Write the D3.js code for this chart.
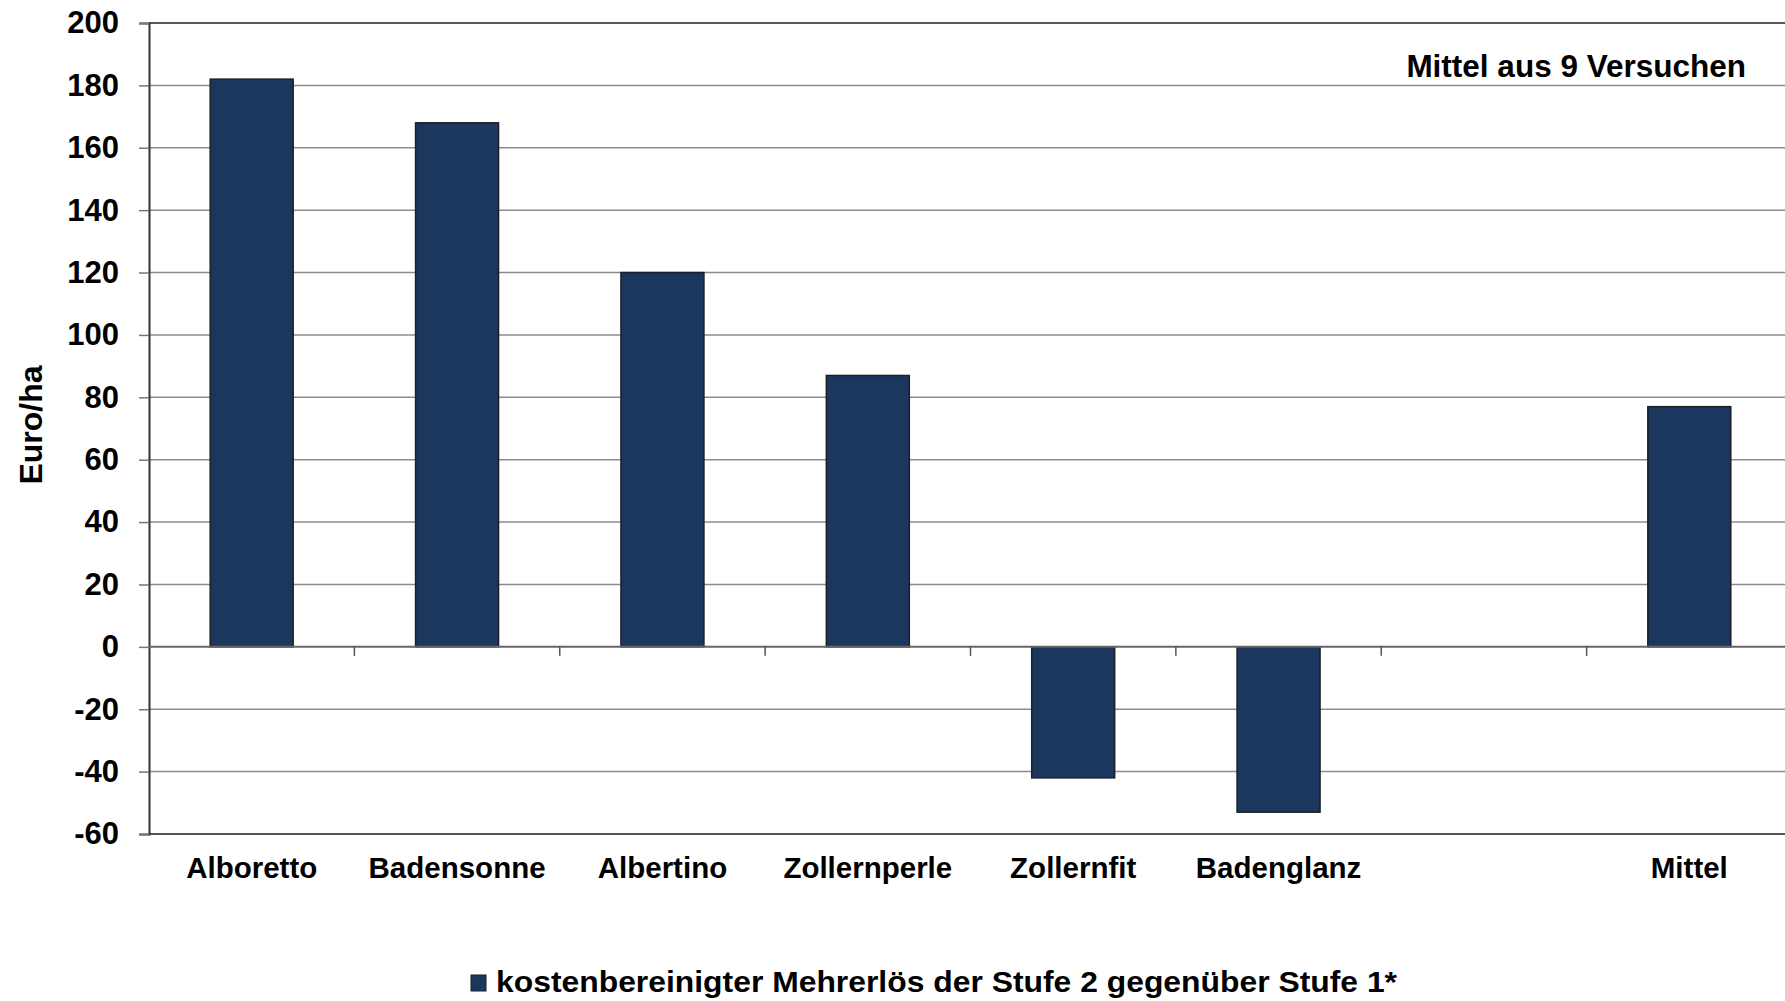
<!DOCTYPE html>
<html>
<head>
<meta charset="utf-8">
<script src="https://cdn.jsdelivr.net/npm/d3@7"></script>
<style>
  body { margin: 0; background: #fff; }
  svg text { font-family: "Liberation Sans", Arial, sans-serif; font-weight: bold; fill: #000; }
</style>
</head>
<body>
<div id="chart"></div>
<script>
'use strict';

// categories (the empty slot before "Mittel" is a gap in the original)
var categories = ['Alboretto', 'Badensonne', 'Albertino', 'Zollernperle', 'Zollernfit', 'Badenglanz', '', 'Mittel'];
var values = [182, 168, 120, 87, -42, -53, null, 77];
var yTicks = [-60, -40, -20, 0, 20, 40, 60, 80, 100, 120, 140, 160, 180, 200];
var seriesName = 'kostenbereinigter Mehrerlös der Stufe 2 gegenüber Stufe 1*';
var note = 'Mittel aus 9 Versuchen';
var yTitle = 'Euro/ha';

var drawChart = function () {
  var width = 1785, height = 1001;
  var left = 149, top = 23, plotW = 1643, plotH = 811;
  var barColor = '#1b375e';

  var svg = d3.select('#chart')
    .append('svg')
    .attr('width', width)
    .attr('height', height);

  var x = d3.scaleBand()
    .domain(d3.range(categories.length))
    .range([left, left + plotW])
    .paddingInner(0.596)
    .paddingOuter(0.298);

  var step = x.step();

  var y = d3.scaleLinear()
    .domain([-60, 200])
    .range([top + plotH, top]);

  // gridlines
  svg.append('g')
    .selectAll('line')
    .data(yTicks.filter(function (t) { return t !== 0 && t !== -60 && t !== 200; }))
    .enter().append('line')
    .attr('x1', left).attr('x2', left + plotW)
    .attr('y1', function (d) { return y(d); })
    .attr('y2', function (d) { return y(d); })
    .style('stroke', '#8c8c8c')
    .style('stroke-width', '1.5px');

  // top and bottom border
  svg.append('line')
    .attr('x1', left).attr('x2', left + plotW)
    .attr('y1', y(200)).attr('y2', y(200))
    .style('stroke', '#222').style('stroke-width', '1.5px');
  svg.append('line')
    .attr('x1', left).attr('x2', left + plotW)
    .attr('y1', y(-60)).attr('y2', y(-60))
    .style('stroke', '#555').style('stroke-width', '2px');

  // y axis (plain hyphen for negatives, like the original)
  var yAxis = d3.axisLeft(y)
    .tickValues(yTicks)
    .tickSize(10)
    .tickPadding(20)
    .tickFormat(function (d) { return String(d); });

  var gy = svg.append('g')
    .attr('transform', 'translate(' + left + ',0)')
    .call(yAxis);
  gy.select('.domain').style('stroke', '#333').style('stroke-width', '2px');
  gy.selectAll('.tick line').style('stroke', '#777').style('stroke-width', '1.5px');
  gy.selectAll('.tick text')
    .style('font-size', '31px')
    .style('font-family', '"Liberation Sans", Arial, sans-serif')
    .style('font-weight', 'bold')
    .attr('fill', '#000');

  // bars
  svg.append('g')
    .selectAll('rect')
    .data(values.map(function (v, i) { return { i: i, v: v }; }).filter(function (d) { return d.v !== null; }))
    .enter().append('rect')
    .attr('x', function (d) { return x(d.i); })
    .attr('width', x.bandwidth())
    .attr('y', function (d) { return y(Math.max(0, d.v)); })
    .attr('height', function (d) { return Math.abs(y(d.v) - y(0)); })
    .style('fill', barColor)
    .style('stroke', '#1a1f28')
    .style('stroke-width', '1.5px');

  // zero line with category separators
  svg.append('line')
    .attr('x1', left).attr('x2', left + plotW)
    .attr('y1', y(0)).attr('y2', y(0))
    .style('stroke', '#666').style('stroke-width', '2px');

  svg.append('g')
    .selectAll('line')
    .data(d3.range(1, categories.length))
    .enter().append('line')
    .attr('x1', function (d) { return x(d) - step * 0.298; })
    .attr('x2', function (d) { return x(d) - step * 0.298; })
    .attr('y1', y(0))
    .attr('y2', y(0) + 9)
    .style('stroke', '#555')
    .style('stroke-width', '1.5px');

  // category labels
  svg.append('g')
    .selectAll('text')
    .data(categories)
    .enter().append('text')
    .attr('x', function (d, i) { return x(i) + x.bandwidth() / 2; })
    .attr('y', 878)
    .attr('text-anchor', 'middle')
    .style('font-size', '29.5px')
    .text(function (d) { return d; });

  // y axis title
  svg.append('text')
    .attr('transform', 'translate(42,' + 425 + ') rotate(-90)')
    .attr('text-anchor', 'middle')
    .style('font-size', '32px')
    .text(yTitle);

  // note top right
  svg.append('text')
    .attr('x', 1746)
    .attr('y', 77)
    .attr('text-anchor', 'end')
    .style('font-size', '31.5px')
    .text(note);

  // legend
  svg.append('rect')
    .attr('x', 471).attr('y', 975)
    .attr('width', 15).attr('height', 16)
    .style('fill', barColor)
    .style('stroke', '#1a1f28')
    .style('stroke-width', '1px');

  svg.append('text')
    .attr('x', 496)
    .attr('y', 992)
    .attr('textLength', 901)
    .attr('lengthAdjust', 'spacingAndGlyphs')
    .style('font-size', '30px')
    .text(seriesName);
};

drawChart();
</script>
</body>
</html>
